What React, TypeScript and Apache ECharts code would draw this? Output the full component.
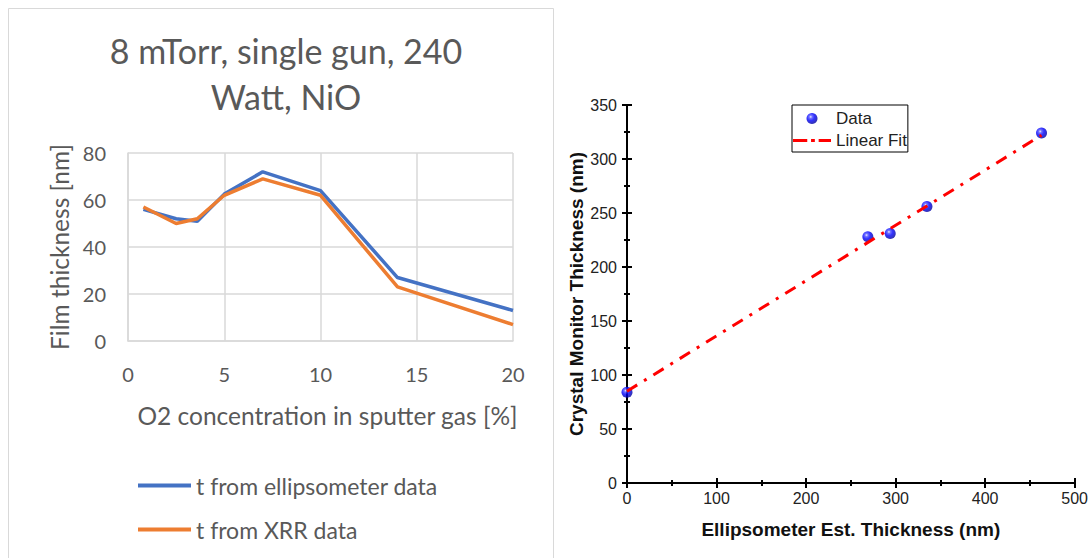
import React, { useEffect, useRef } from "react";
import * as echarts from "echarts";

// Left chart data
const o2Conc = [0.8, 2.5, 3.6, 5, 7, 10, 14, 20];
const tEllipsometer = [56, 52, 51, 62.5, 72, 64, 27, 13];
const tXRR = [57, 50, 52, 62, 69, 62, 23, 7];

// Right chart data
const ellipsoEst = [0, 269, 294, 335, 463];
const crystalMonitor = [84, 228, 231, 256, 324];
const fitX = [0, 463];
const fitY = [85, 322];

const leftTitle = "8 mTorr, single gun, 240\nWatt, NiO";

const dashDotIcon =
  "path://M0,0h15v3h-15z M19,0h4v3h-4z M27,0h13v3h-13z";

export default function App() {
  const ref = useRef<HTMLDivElement>(null);
  useEffect(() => {
    if (!ref.current) return;
    const chart = echarts.init(ref.current, null, { renderer: "svg" });
    const grayText = "#595959";
    const lfont = "Lato";
    const rfont = "Liberation Sans";
    const sphere = new echarts.graphic.RadialGradient(0.38, 0.35, 0.62, [
      { offset: 0, color: "#e8e8ff" },
      { offset: 0.22, color: "#5050ff" },
      { offset: 0.55, color: "#0000ff" },
      { offset: 1, color: "#0000a8" },
    ]);
    const zip = (xs: number[], ys: number[]) => xs.map((x, i) => [x, ys[i]]);
    const tickStyle = { color: "#000", width: 2 };
    chart.setOption({
      animation: false,
      backgroundColor: "#ffffff",
      title: [
        {
          text: leftTitle,
          left: 281,
          top: 22,
          textAlign: "center",
          textStyle: {
            fontFamily: lfont,
            fontSize: 34,
            fontWeight: "normal",
            color: grayText,
            lineHeight: 46,
          },
        },
      ],
      graphic: [
        {
          type: "rect",
          z: -10,
          shape: { x: 8.5, y: 8.5, width: 545, height: 570 },
          style: { fill: "none", stroke: "#d9d9d9", lineWidth: 1 },
        },
      ],
      legend: [
        {
          orient: "vertical",
          left: 133,
          top: 469,
          itemWidth: 53,
          itemHeight: 4,
          itemGap: 21,
          icon: "rect",
          data: ["t from ellipsometer data", "t from XRR data"],
          textStyle: { fontFamily: lfont, fontSize: 23, color: grayText },
        },
        {
          orient: "vertical",
          left: 792,
          top: 105,
          itemWidth: 38,
          itemHeight: 11,
          itemGap: 5,
          itemStyle: { borderWidth: 0 },
          padding: [5, 1, 3, 1],
          borderColor: "#000",
          borderWidth: 1,
          backgroundColor: "#fff",
          data: [
            { name: "Data", icon: "circle" },
            { name: "Linear Fit", icon: dashDotIcon },
          ],
          textStyle: { fontFamily: rfont, fontSize: 17, color: "#222" },
        },
      ],
      grid: [
        { left: 128, top: 153, width: 385, height: 188 },
        { left: 627, top: 105, width: 448, height: 378 },
      ],
      xAxis: [
        {
          gridIndex: 0,
          type: "value",
          min: 0,
          max: 20,
          interval: 5,
          name: "O2 concentration in sputter gas [%]",
          nameLocation: "middle",
          nameGap: 62,
          nameTextStyle: { fontFamily: lfont, fontSize: 24.5, color: grayText, padding: [0, 0, 0, 14] },
          axisLine: { lineStyle: { color: "#d9d9d9", width: 1.5 } },
          axisTick: { show: false },
          splitLine: { show: true, lineStyle: { color: "#d9d9d9", width: 1.5 } },
          axisLabel: { fontFamily: lfont, fontSize: 20, color: grayText, margin: 23 },
        },
        {
          gridIndex: 1,
          type: "value",
          min: 0,
          max: 500,
          interval: 100,
          name: "Ellipsometer Est. Thickness (nm)",
          nameLocation: "middle",
          nameGap: 37,
          nameTextStyle: { fontFamily: rfont, fontSize: 19, fontWeight: "bold", color: "#111" },
          axisLine: { lineStyle: tickStyle },
          axisTick: { inside: true, length: 5, lineStyle: tickStyle },
          minorTick: { show: true, splitNumber: 2, length: 3, lineStyle: tickStyle },
          splitLine: { show: false },
          axisLabel: { fontFamily: rfont, fontSize: 16, color: "#222", margin: 7 },
        },
        {
          gridIndex: 1,
          type: "value",
          position: "top",
          min: 0,
          max: 500,
          interval: 100,
          axisLine: { lineStyle: tickStyle },
          axisTick: { inside: true, length: 5, lineStyle: tickStyle },
          minorTick: { show: true, splitNumber: 2, length: 3, lineStyle: tickStyle },
          splitLine: { show: false },
          axisLabel: { show: false },
        },
      ],
      yAxis: [
        {
          gridIndex: 0,
          type: "value",
          min: 0,
          max: 80,
          interval: 20,
          name: "Film thickness [nm]",
          nameLocation: "middle",
          nameGap: 56,
          nameTextStyle: { fontFamily: lfont, fontSize: 24.5, color: grayText },
          axisLine: { show: true, lineStyle: { color: "#d9d9d9", width: 1.5 } },
          axisTick: { show: false },
          splitLine: { show: true, lineStyle: { color: "#d9d9d9", width: 1.5 } },
          axisLabel: { fontFamily: lfont, fontSize: 20, color: grayText, margin: 22 },
        },
        {
          gridIndex: 1,
          type: "value",
          min: 0,
          max: 350,
          interval: 50,
          name: "Crystal Monitor Thickness (nm)",
          nameLocation: "middle",
          nameGap: 36,
          nameTextStyle: { fontFamily: rfont, fontSize: 19, fontWeight: "bold", color: "#111" },
          axisLine: { show: true, lineStyle: tickStyle },
          axisTick: { inside: true, length: 5, lineStyle: tickStyle },
          minorTick: { show: true, splitNumber: 2, length: 3, lineStyle: tickStyle },
          splitLine: { show: false },
          axisLabel: { fontFamily: rfont, fontSize: 16, color: "#222", margin: 10 },
        },
        {
          gridIndex: 1,
          type: "value",
          position: "right",
          min: 0,
          max: 350,
          interval: 50,
          axisLine: { show: true, lineStyle: tickStyle },
          axisTick: { inside: true, length: 5, lineStyle: tickStyle },
          minorTick: { show: true, splitNumber: 2, length: 3, lineStyle: tickStyle },
          splitLine: { show: false },
          axisLabel: { show: false },
        },
      ],
      series: [
        {
          name: "t from ellipsometer data",
          type: "line",
          xAxisIndex: 0,
          yAxisIndex: 0,
          symbol: "none",
          data: zip(o2Conc, tEllipsometer),
          lineStyle: { color: "#4472C4", width: 3.5 },
          itemStyle: { color: "#4472C4" },
        },
        {
          name: "t from XRR data",
          type: "line",
          xAxisIndex: 0,
          yAxisIndex: 0,
          symbol: "none",
          data: zip(o2Conc, tXRR),
          lineStyle: { color: "#ED7D31", width: 3.5 },
          itemStyle: { color: "#ED7D31" },
        },
        {
          name: "Data",
          type: "scatter",
          xAxisIndex: 1,
          yAxisIndex: 1,
          symbol: "circle",
          symbolSize: 11,
          data: zip(ellipsoEst, crystalMonitor),
          itemStyle: { color: sphere },
        },
        {
          name: "Linear Fit",
          type: "line",
          xAxisIndex: 1,
          yAxisIndex: 1,
          symbol: "none",
          z: 3,
          data: zip(fitX, fitY),
          lineStyle: { color: "#ff0000", width: 3, type: [12, 8, 3, 8] },
          itemStyle: { color: "#ff0000" },
        },
      ],
    });
    return () => chart.dispose();
  }, []);
  return (
    <div
      ref={ref}
      style={{ position: "fixed", left: 0, top: 0, width: 1091, height: 558 }}
    />
  );
}
